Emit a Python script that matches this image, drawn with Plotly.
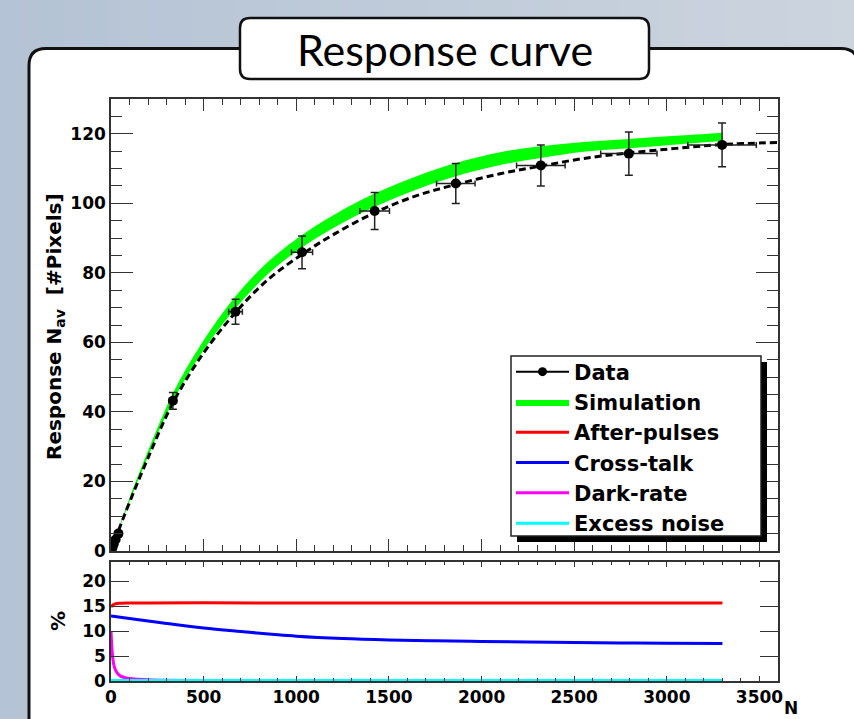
import plotly.graph_objects as go

# ---------------- data ----------------
n_data = [3, 8, 15, 25, 40, 334, 672, 1031, 1423, 1861, 2320, 2795, 3298]
nav_data = [0.4, 1.0, 2.0, 3.3, 5.0, 43.2, 68.8, 85.9, 97.8, 105.7, 110.9, 114.3, 116.8]
nav_err = [0.3, 0.4, 0.5, 0.6, 0.7, 2.4, 3.6, 4.7, 5.3, 5.75, 5.9, 6.2, 6.3]
n_err = [0.2, 0.5, 1, 1.5, 2.2, 19, 37, 57, 80, 104, 131, 152, 185]

fit_n = [0, 50, 100, 200, 334, 500, 672, 850, 1031, 1200, 1423, 1650, 1861, 2100, 2320, 2550, 2795, 3050, 3298, 3600]
fit_nav = [0, 7.2, 14.0, 26.8, 42.6, 57.0, 68.6, 78.2, 85.3, 91.0, 97.3, 102.2, 105.4, 108.5, 110.7, 112.9, 114.5, 115.8, 116.9, 117.5]

sim_n = [0, 50, 100, 200, 334, 500, 672, 850, 1031, 1200, 1423, 1650, 1861, 2100, 2320, 2550, 2795, 3050, 3300]
sim_lo = [0, 7.2, 14.2, 27.2, 43.0, 57.8, 69.8, 79.8, 87.3, 92.9, 99.0, 104.0, 107.8, 111.0, 113.0, 114.8, 115.8, 116.9, 117.9]
sim_hi = [0.3, 7.8, 15.2, 28.8, 45.4, 60.6, 73.3, 83.3, 90.9, 96.6, 102.8, 107.8, 111.6, 114.7, 116.4, 117.6, 118.5, 119.4, 120.3]

ap_n = [0, 10, 25, 50, 100, 200, 500, 1000, 1500, 2000, 2500, 3000, 3300]
ap_val = [14.8, 15.2, 15.45, 15.55, 15.6, 15.6, 15.65, 15.6, 15.6, 15.6, 15.6, 15.6, 15.6]

ct_n = [0, 100, 200, 300, 500, 700, 883, 1000, 1250, 1500, 1750, 2000, 2250, 2500, 2750, 3000, 3300]
ct_val = [13.0, 12.5, 12.0, 11.5, 10.6, 9.9, 9.3, 8.97, 8.5, 8.22, 8.05, 7.92, 7.8, 7.7, 7.62, 7.56, 7.5]

dr_n = [0, 3, 6, 10, 15, 20, 30, 45, 60, 80, 100, 150, 200, 300, 500, 1000, 2000, 3300]
dr_val = [10.0, 7.8, 6.0, 4.5, 3.3, 2.6, 1.8, 1.15, 0.85, 0.65, 0.5, 0.35, 0.25, 0.15, 0.08, 0.04, 0.02, 0.0]

en_n = [0, 3300]
en_val = [0.1, 0.1]

x_ticks = [0, 500, 1000, 1500, 2000, 2500, 3000, 3500]
y_ticks_top = [0, 20, 40, 60, 80, 100, 120]
y_ticks_bot = [0, 5, 10, 15, 20]

# ---------------- layout geometry ----------------
W, H = 854, 719
ML, MR, MT, MB = 111, 76, 99, 38
PW, PH = W - ML - MR, H - MT - MB


def px(x):
    return (x - ML) / PW


def py(y):
    return (H - MB - y) / PH


def rrect(x0, y0, x1, y1, r):
    pts = [
        ("M", [(x0 + r, y0)]), ("L", [(x1 - r, y0)]), ("Q", [(x1, y0), (x1, y0 + r)]),
        ("L", [(x1, y1 - r)]), ("Q", [(x1, y1), (x1 - r, y1)]), ("L", [(x0 + r, y1)]),
        ("Q", [(x0, y1), (x0, y1 - r)]), ("L", [(x0, y0 + r)]), ("Q", [(x0, y0), (x0 + r, y0)]),
    ]
    s = ""
    for cmd, ps in pts:
        s += cmd + " " + " ".join(f"{px(a):.5f},{py(b):.5f}" for a, b in ps) + " "
    return s + "Z"


FONT = "DejaVu Sans"
AX = "#333333"

fig = go.Figure()

# simulation band
fig.add_trace(go.Scatter(x=sim_n, y=sim_lo, mode="lines", line=dict(width=0, color="#00ff00", shape="spline"),
                         showlegend=False, hoverinfo="skip", xaxis="x", yaxis="y"))
fig.add_trace(go.Scatter(x=sim_n, y=sim_hi, mode="lines", line=dict(width=0, color="#00ff00", shape="spline"),
                         fill="tonexty", fillcolor="#00ff00", name="Simulation", legendrank=2,
                         xaxis="x", yaxis="y"))
# fit
fig.add_trace(go.Scatter(x=fit_n, y=fit_nav, mode="lines",
                         line=dict(color="black", width=3, dash="7px,4px", shape="spline"),
                         showlegend=False, xaxis="x", yaxis="y"))
# data
fig.add_trace(go.Scatter(x=n_data, y=nav_data, mode="markers",
                         marker=dict(color="black", size=10),
                         error_y=dict(type="data", array=nav_err, color="#222", thickness=1.5, width=4),
                         error_x=dict(type="data", array=n_err, color="#222", thickness=1.5, width=3),
                         showlegend=False, xaxis="x", yaxis="y"))
fig.add_trace(go.Scatter(x=[None], y=[None], mode="lines+markers", name="Data", legendrank=1,
                         line=dict(color="black", width=2), marker=dict(color="black", size=9),
                         xaxis="x", yaxis="y"))

# bottom panel
fig.add_trace(go.Scatter(x=ap_n, y=ap_val, mode="lines", line=dict(color="#ff0000", width=3, shape="spline"),
                         name="After-pulses", legendrank=3, xaxis="x2", yaxis="y2"))
fig.add_trace(go.Scatter(x=ct_n, y=ct_val, mode="lines", line=dict(color="#0000ff", width=3, shape="spline"),
                         name="Cross-talk", legendrank=4, xaxis="x2", yaxis="y2"))
fig.add_trace(go.Scatter(x=dr_n, y=dr_val, mode="lines", line=dict(color="#ff00ff", width=3, shape="spline"),
                         name="Dark-rate", legendrank=5, xaxis="x2", yaxis="y2"))
fig.add_trace(go.Scatter(x=en_n, y=en_val, mode="lines", line=dict(color="#00ffff", width=3),
                         name="Excess noise", legendrank=6, xaxis="x2", yaxis="y2"))

tickfont = dict(family=FONT, size=17, color="black", weight="bold")

common_x = dict(range=[0, 3600], showgrid=False, zeroline=False, showline=True, linecolor=AX, linewidth=1.5,
                mirror="ticks", ticks="inside", tickcolor=AX, tickwidth=1.2, tickvals=x_ticks)

fig.update_layout(
    width=W, height=H,
    margin=dict(l=ML, r=MR, t=MT, b=MB),
    paper_bgcolor="#c2ccd8", plot_bgcolor="white",
    showlegend=True,
    xaxis=dict(common_x, anchor="y", showticklabels=False, ticklen=12,
               minor=dict(dtick=100, ticklen=6, ticks="inside", tickcolor=AX, tickwidth=1.2, showgrid=False)),
    yaxis=dict(domain=[py(551), 1], range=[0, 130], showgrid=False, zeroline=False, showline=True,
               linecolor=AX, linewidth=1.5, mirror="ticks", ticks="inside", ticklen=22, tickcolor=AX,
               tickwidth=1.2, tickvals=y_ticks_top, tickfont=tickfont,
               minor=dict(dtick=5, ticklen=11, ticks="inside", tickcolor=AX, tickwidth=1.2, showgrid=False)),
    xaxis2=dict(common_x, anchor="y2", ticklen=5, tickfont=tickfont,
                minor=dict(dtick=100, ticklen=3, ticks="inside", tickcolor=AX, tickwidth=1.2, showgrid=False)),
    yaxis2=dict(domain=[0, py(562)], range=[0, 23.8], showgrid=False, zeroline=False, showline=True,
                linecolor=AX, linewidth=1.5, mirror="ticks", ticks="inside", ticklen=18, tickcolor=AX,
                tickwidth=1.2, tickvals=y_ticks_bot, tickfont=tickfont),
    legend=dict(x=px(511), y=py(351.5), xanchor="left", yanchor="top", bgcolor="rgba(0,0,0,0)",
                borderwidth=0, font=dict(family=FONT, size=21, color="black", weight="bold"),
                traceorder="normal", itemwidth=53),
)

shapes = []
# gradient background
left_c = (180, 195, 213)
right_c = (204, 212, 222)
NS = 40
for i in range(NS):
    t = i / (NS - 1)
    c = tuple(int(round(left_c[k] + (right_c[k] - left_c[k]) * t)) for k in range(3))
    shapes.append(dict(type="rect", xref="paper", yref="paper", layer="below",
                       x0=px(W * i / NS - 1), x1=px(W * (i + 1) / NS + 1), y0=py(H + 2), y1=py(-2),
                       line=dict(width=0), fillcolor=f"rgb{c}"))
# main white panel
shapes.append(dict(type="path", xref="paper", yref="paper", layer="below",
                   path=rrect(29, 48.5, 858, 760, 17), fillcolor="white", line=dict(color="#111", width=3)))
# title box
shapes.append(dict(type="path", xref="paper", yref="paper", layer="below",
                   path=rrect(240, 18, 649, 79, 10), fillcolor="white", line=dict(color="#111", width=2.5)))
# legend box shadow and box
shapes.append(dict(type="rect", xref="paper", yref="paper", layer="above",
                   x0=px(517), x1=px(767), y0=py(542), y1=py(362), fillcolor="black", line=dict(width=0)))
shapes.append(dict(type="rect", xref="paper", yref="paper", layer="above",
                   x0=px(511), x1=px(761), y0=py(536), y1=py(356), fillcolor="white",
                   line=dict(color="#222", width=1.5)))
fig.update_layout(shapes=shapes)

annotations = [
    dict(text="Response curve", xref="paper", yref="paper", x=px(444.5), y=py(49), showarrow=False,
         xanchor="center", yanchor="middle", font=dict(family="Lato", size=43, color="black")),
    dict(text="Response N<sub>av</sub>  [#Pixels]", xref="paper", yref="paper", x=px(55), y=py(327),
         textangle=-90, showarrow=False, xanchor="center", yanchor="middle",
         font=dict(family=FONT, size=20, color="black", weight="bold")),
    dict(text="%", xref="paper", yref="paper", x=px(58), y=py(621), textangle=-90, showarrow=False,
         xanchor="center", yanchor="middle", font=dict(family=FONT, size=20, color="black", weight="bold")),
    dict(text="N", xref="paper", yref="paper", x=px(791), y=py(708), showarrow=False,
         xanchor="center", yanchor="middle", font=dict(family=FONT, size=17, color="black", weight="bold")),
]
fig.update_layout(annotations=annotations)

fig.write_html("out.html")
